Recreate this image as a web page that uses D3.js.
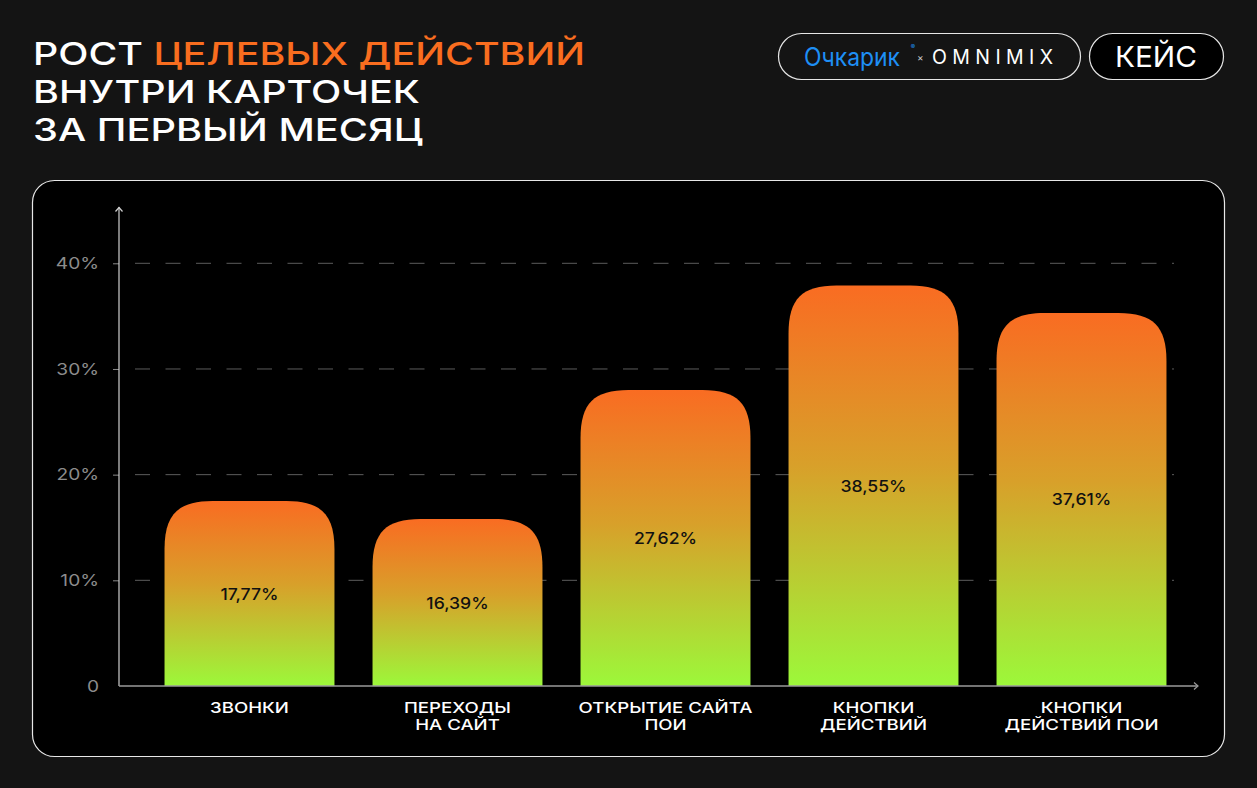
<!DOCTYPE html>
<html><head><meta charset="utf-8">
<script src="https://cdn.jsdelivr.net/npm/d3@7"></script>
<style>
html,body{margin:0;padding:0;background:#141414;}
svg{display:block;}
text{font-family:Inter,"Noto Sans",sans-serif;}
</style></head>
<body><svg id="c" width="1257" height="788"></svg>
<script>
// ---- data ----
const categories = [["ЗВОНКИ"],["ПЕРЕХОДЫ","НА САЙТ"],["ОТКРЫТИЕ САЙТА","ПОИ"],["КНОПКИ","ДЕЙСТВИЙ"],["КНОПКИ","ДЕЙСТВИЙ ПОИ"]];
const values = [17.5, 15.8, 28.0, 37.9, 35.3];
const valueLabels = ["17,77%","16,39%","27,62%","38,55%","37,61%"];
const yTicks = [0, 10, 20, 30, 40];
const yTickLabels = ["0","10%","20%","30%","40%"];
const titleLines = [[["РОСТ ","#ffffff"],["ЦЕЛЕВЫХ ДЕЙСТВИЙ","#f96d1f"]],[["ВНУТРИ КАРТОЧЕК","#ffffff"]],[["ЗА ПЕРВЫЙ МЕСЯЦ","#ffffff"]]];

const svg = d3.select("#c");
svg.append("rect").attr("width",1257).attr("height",788).attr("fill","#141414");

function stretch(sel, f){
  sel.each(function(){
    const L = this.getComputedTextLength();
    if (L>0) d3.select(this).attr("textLength", L*f).attr("lengthAdjust","spacingAndGlyphs");
  });
}

// title
const titleW = [552, 387, 390];
const titleBase = [64.5, 102.7, 140.7];
titleLines.forEach((ln,i)=>{
  const t = svg.append("text").attr("x",33).attr("y",titleBase[i])
    .attr("font-size",31).attr("font-weight",500);
  ln.forEach(p=>t.append("tspan").attr("fill",p[1]).text(p[0]));
  t.attr("textLength",titleW[i]).attr("lengthAdjust","spacingAndGlyphs");
});

// logo pill
svg.append("rect").attr("x",778.5).attr("y",33.5).attr("width",302).attr("height",46).attr("rx",23)
  .attr("fill","#141414").attr("stroke","#e6e6e6").attr("stroke-width",1.2);
const logoT = svg.append("text").attr("x",804).attr("y",66).attr("fill","#1e8ff5")
  .attr("font-size",25).attr("font-weight",400).text("Очкарик");
const logoW = logoT.node().getComputedTextLength();
logoT.attr("textLength",Math.min(96, logoW*1.05)).attr("lengthAdjust","spacingAndGlyphs");
svg.append("text").attr("x",Math.max(905, 806+logoW)).attr("y",49).attr("font-size",6.5).attr("fill","#1e8ff5").text("®");
svg.append("text").attr("x",917).attr("y",61).attr("font-size",10).attr("fill","#cccccc").text("×");
svg.append("text").attr("x",932).attr("y",63.5).attr("font-size",19.5).attr("font-weight",400)
  .attr("fill","#ffffff").text("OMNIMIX")
  .attr("textLength",121).attr("lengthAdjust","spacing");
// case pill
svg.append("rect").attr("x",1089.5).attr("y",33.5).attr("width",134).attr("height",46).attr("rx",23)
  .attr("fill","#000").attr("stroke","#e6e6e6").attr("stroke-width",1.2);
svg.append("text").attr("x",1115).attr("y",66.5).attr("font-size",29)
  .attr("font-weight",400).attr("fill","#fff").text("КЕЙС")
  .attr("textLength",82).attr("lengthAdjust","spacingAndGlyphs");

// panel
svg.append("rect").attr("x",32.5).attr("y",180.5).attr("width",1192).attr("height",576).attr("rx",22)
  .attr("fill","#000").attr("stroke","#e8e8e8").attr("stroke-width",1.2);

// scales
const y = d3.scaleLinear().domain([0,40]).range([686,263.3]);
const x = d3.scaleBand().domain(d3.range(categories.length)).range([145.5,1185.5])
  .paddingInner(0.183).paddingOuter(0.0915);

// gradient
const defs = svg.append("defs");
const g = defs.append("linearGradient").attr("id","barg").attr("x1",0).attr("y1",0).attr("x2",0).attr("y2",1);
g.append("stop").attr("offset","0%").attr("stop-color","#f96c22");
g.append("stop").attr("offset","45%").attr("stop-color","#d8a02a");
g.append("stop").attr("offset","100%").attr("stop-color","#9cf83a");

// grid
svg.append("g").selectAll("line").data(yTicks.filter(d=>d>0)).join("line")
  .attr("x1",135).attr("x2",1174).attr("y1",d=>y(d)).attr("y2",d=>y(d))
  .attr("stroke","#5c5c5c").attr("stroke-width",1).attr("stroke-dasharray","15,15.5");

// y axis via d3.axisLeft
const yAxis = d3.axisLeft(y).tickValues(yTicks).tickSize(6).tickPadding(14)
  .tickFormat((d,i)=>yTickLabels[i]);
const ya = svg.append("g").attr("transform","translate(119,0)").call(yAxis);
ya.select(".domain").remove();
ya.selectAll(".tick line").attr("stroke","#8a8a8a");
ya.selectAll(".tick text").attr("fill","#8c8c8c").attr("font-size",16.5)
  .attr("font-family","Inter, sans-serif").attr("font-weight",400);
stretch(ya.selectAll(".tick text"), 1.16);
ya.selectAll(".tick").filter(d=>d===0).select("line").remove();

// bars
function barPath(x0,y0,w,h){
  const r = Math.min(48,h), k=0.28;
  return `M${x0},${y0+h}V${y0+r}C${x0},${y0+r*k} ${x0+r*k},${y0} ${x0+r},${y0}`+
    `H${x0+w-r}C${x0+w-r*k},${y0} ${x0+w},${y0+r*k} ${x0+w},${y0+r}V${y0+h}Z`;
}
svg.append("g").selectAll("path").data(values).join("path")
  .attr("d",(d,i)=>barPath(x(i),y(d),x.bandwidth(),y(0)-y(d)))
  .attr("fill","url(#barg)");

// value labels
const vl = svg.append("g").selectAll("text").data(values).join("text")
  .attr("x",(d,i)=>x(i)+x.bandwidth()/2).attr("y",d=>(y(d)+y(0))/2+6)
  .attr("text-anchor","middle").attr("font-size",16).attr("font-weight",500)
  .attr("fill","#111").text((d,i)=>valueLabels[i]);
stretch(vl, 1.1);

// axes lines
svg.append("line").attr("x1",119).attr("x2",119).attr("y1",686).attr("y2",207).attr("stroke","#d0d0d0").attr("stroke-width",1.2);
svg.append("path").attr("d","M115.5,211.5L119,207.5L122.5,211.5").attr("fill","none").attr("stroke","#d0d0d0").attr("stroke-width",1.2);
svg.append("line").attr("x1",119).attr("x2",1198).attr("y1",686).attr("y2",686).attr("stroke","#9a9a9a").attr("stroke-width",1.5);
svg.append("path").attr("d","M1194,682.5L1198,686L1194,689.5").attr("fill","none").attr("stroke","#9a9a9a").attr("stroke-width",1.2);

// category labels (one text per category, one tspan per line)
const cl = svg.append("g").selectAll("text").data(categories).join("text")
  .attr("text-anchor","middle").attr("font-size",15).attr("font-weight",500).attr("fill","#fff");
cl.each(function(d,i){
  const t = d3.select(this);
  d.forEach((s,j)=>t.append("tspan").attr("x",x(i)+x.bandwidth()/2).attr("y",713+j*17).text(s));
});
stretch(cl.selectAll("tspan"), 1.24);
</script></body></html>
